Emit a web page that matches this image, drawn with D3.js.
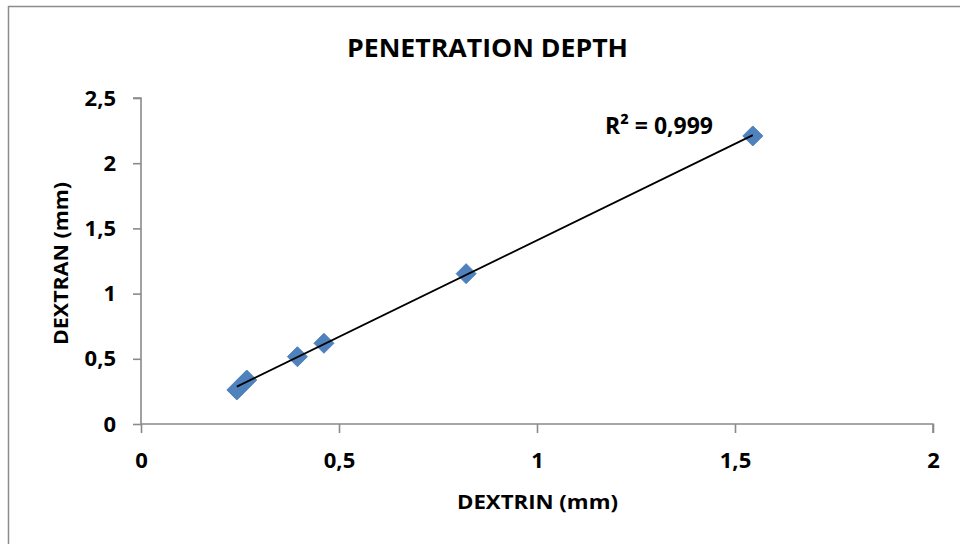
<!DOCTYPE html>
<html>
<head>
<meta charset="utf-8">
<script src="https://cdn.jsdelivr.net/npm/d3@7/dist/d3.min.js"></script>
<style>
  html, body { margin: 0; padding: 0; background: #fff; }
  svg { display: block; }
  text { font-family: "Open Sans", Lato, sans-serif; font-weight: bold; fill: #000; }
</style>
</head>
<body>
<svg id="chart" width="960" height="544"></svg>
<script>
// Penetration depth measurements (mm)
const dextrin = [0.242, 0.267, 0.395, 0.462, 0.821, 1.545];
const dextran = [0.261, 0.337, 0.516, 0.619, 1.153, 2.209];

const xTicks = [0, 0.5, 1, 1.5, 2];
const yTicks = [0, 0.5, 1, 1.5, 2, 2.5];
const fmt = v => String(v).replace(".", ",");

const titleText = "PENETRATION DEPTH";
const xTitle = "DEXTRIN (mm)";
const yTitle = "DEXTRAN (mm)";
const r2Label = "R² = 0,999";

const svg = d3.select("#chart");

// chart area frame
svg.append("rect")
  .attr("x", 8.5).attr("y", 6.5)
  .attr("width", 980).attr("height", 560)
  .attr("fill", "#fff")
  .attr("stroke", "#8c8c8c")
  .attr("stroke-width", 1.5);

const x = d3.scaleLinear().domain([0, 2]).range([141, 933]);
const y = d3.scaleLinear().domain([0, 2.5]).range([424, 98]);

const axisColor = "#8a8a8a";

// x axis
const gx = svg.append("g")
  .attr("transform", `translate(0,${y(0)})`)
  .call(d3.axisBottom(x).tickValues(xTicks).tickFormat(fmt).tickSize(9).tickPadding(19));
// y axis
const gy = svg.append("g")
  .attr("transform", `translate(${x(0)},0)`)
  .call(d3.axisLeft(y).tickValues(yTicks).tickFormat(fmt).tickSize(8).tickPadding(17));

[gx, gy].forEach(g => {
  g.select(".domain").attr("stroke", axisColor).attr("stroke-width", 1.6);
  g.selectAll(".tick line").attr("stroke", axisColor).attr("stroke-width", 1.6);
  g.selectAll(".tick text")
    .attr("fill", "#000")
    .style("font-family", "'Open Sans', sans-serif")
    .style("font-weight", "bold")
    .style("font-size", "22px");
});
gx.select(".domain").attr("d", `M${x(0)},0H${x(2)}V9`);
gy.select(".domain").attr("d", `M-8,${y(2.5)}H0V${y(0)}`);

// least-squares trendline over the data range
const n = dextrin.length;
const mx = d3.mean(dextrin), my = d3.mean(dextran);
let sxy = 0, sxx = 0;
for (let i = 0; i < n; i++) {
  sxy += (dextrin[i] - mx) * (dextran[i] - my);
  sxx += (dextrin[i] - mx) ** 2;
}
const slope = sxy / sxx;
const intercept = my - slope * mx;
const [x0, x1] = d3.extent(dextrin);

const points = dextrin.map((d, i) => ({ x: d, y: dextran[i] }));

// diamond markers
svg.append("g")
  .selectAll("path")
  .data(points)
  .join("path")
  .attr("transform", d => `translate(${x(d.x)},${y(d.y)})`)
  .attr("d", "M0,-10L10,0L0,10L-10,0Z")
  .attr("fill", "#4f81bd")
  .attr("stroke", "#4f81bd")
  .attr("stroke-width", 1)
  .attr("stroke-linejoin", "round");

svg.append("line")
  .attr("x1", x(x0)).attr("y1", y(slope * x0 + intercept))
  .attr("x2", x(x1)).attr("y2", y(slope * x1 + intercept))
  .attr("stroke", "#000")
  .attr("stroke-width", 1.8);

// texts
svg.append("text")
  .attr("x", 487.5).attr("y", 57)
  .attr("text-anchor", "middle")
  .style("font-size", "25px")
  .attr("textLength", 281)
  .attr("lengthAdjust", "spacingAndGlyphs")
  .text(titleText);

svg.append("text")
  .attr("x", 537.5).attr("y", 509)
  .attr("text-anchor", "middle")
  .style("font-size", "20px")
  .attr("textLength", 161)
  .attr("lengthAdjust", "spacingAndGlyphs")
  .text(xTitle);

svg.append("text")
  .attr("transform", "translate(68,263.5) rotate(-90)")
  .attr("text-anchor", "middle")
  .style("font-size", "20px")
  .attr("textLength", 163)
  .attr("lengthAdjust", "spacingAndGlyphs")
  .text(yTitle);

svg.append("text")
  .attr("x", 605).attr("y", 134)
  .style("font-size", "24px")
  .attr("textLength", 108)
  .attr("lengthAdjust", "spacingAndGlyphs")
  .text(r2Label);
</script>
</body>
</html>
